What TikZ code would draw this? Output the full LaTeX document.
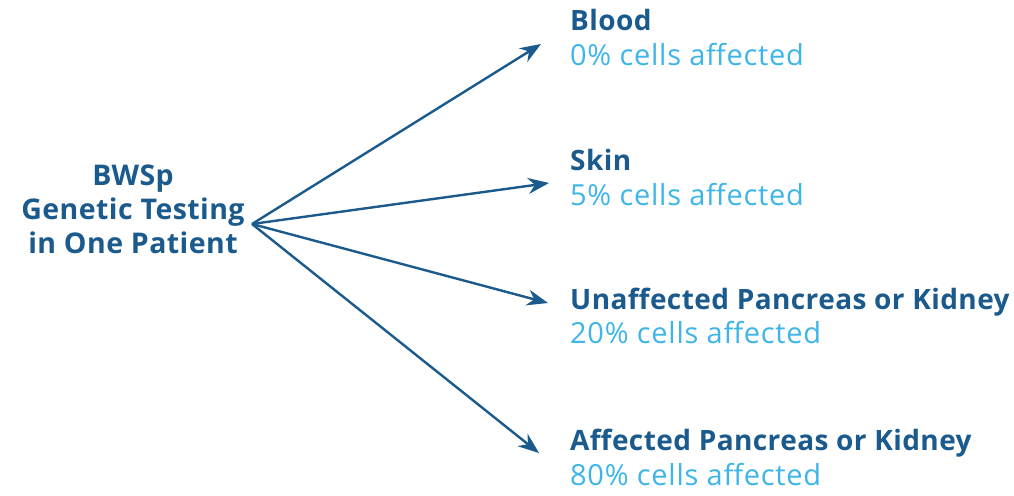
\documentclass[tikz,border=0pt]{standalone}
\usepackage{fontspec}
\setmainfont{Open Sans}
\newfontfamily\subfont[LetterSpace=2.5]{Open Sans}
\newfontfamily\headfont[LetterSpace=1.5]{Open Sans}
\usetikzlibrary{arrows.meta}
\definecolor{dblue}{HTML}{1B5A8C}
\definecolor{lblue}{HTML}{3DB5E8}
\tikzset{
  head/.style={anchor=base west, inner sep=0pt, text=dblue, font=\headfont\fontsize{28}{30}\selectfont\bfseries},
  sub/.style={anchor=base west, inner sep=0pt, text=lblue, font=\subfont\fontsize{29}{30}\selectfont},
  ctr/.style={anchor=base, inner sep=0pt, text=dblue, font=\headfont\fontsize{28.5}{30}\selectfont\bfseries},
  conn/.style={draw=dblue, line width=2.4pt, -{Stealth[length=21pt,width=16pt]}},
}
\begin{document}
\begin{tikzpicture}[x=1pt,y=-1pt]
\useasboundingbox (0,0) rectangle (1014,495);
\node[ctr] (src1) at (133,185) {BWSp};
\node[ctr] (src2) at (133,219) {Genetic Testing};
\node[ctr] (src3) at (133,253) {in One Patient};
\coordinate (o) at (252,224);
\node[head] (h1) at (570,31) {Blood};
\node[sub] (s1) at (570,66) {0\% cells affected};
\node[head] (h2) at (570,170) {Skin};
\node[sub] (s2) at (570,205) {5\% cells affected};
\node[head] (h3) at (570,309) {Unaffected Pancreas or Kidney};
\node[sub] (s3) at (570,343) {20\% cells affected};
\node[head] (h4) at (570,450) {Affected Pancreas or Kidney};
\node[sub] (s4) at (570,485) {80\% cells affected};
\coordinate (t1) at (541,44);
\coordinate (t2) at (549,183);
\coordinate (t3) at (548,303);
\coordinate (t4) at (539,453);
\draw[conn] (o) -- (t1);
\draw[conn] (o) -- (t2);
\draw[conn] (o) -- (t3);
\draw[conn] (o) -- (t4);
\end{tikzpicture}
\end{document}
